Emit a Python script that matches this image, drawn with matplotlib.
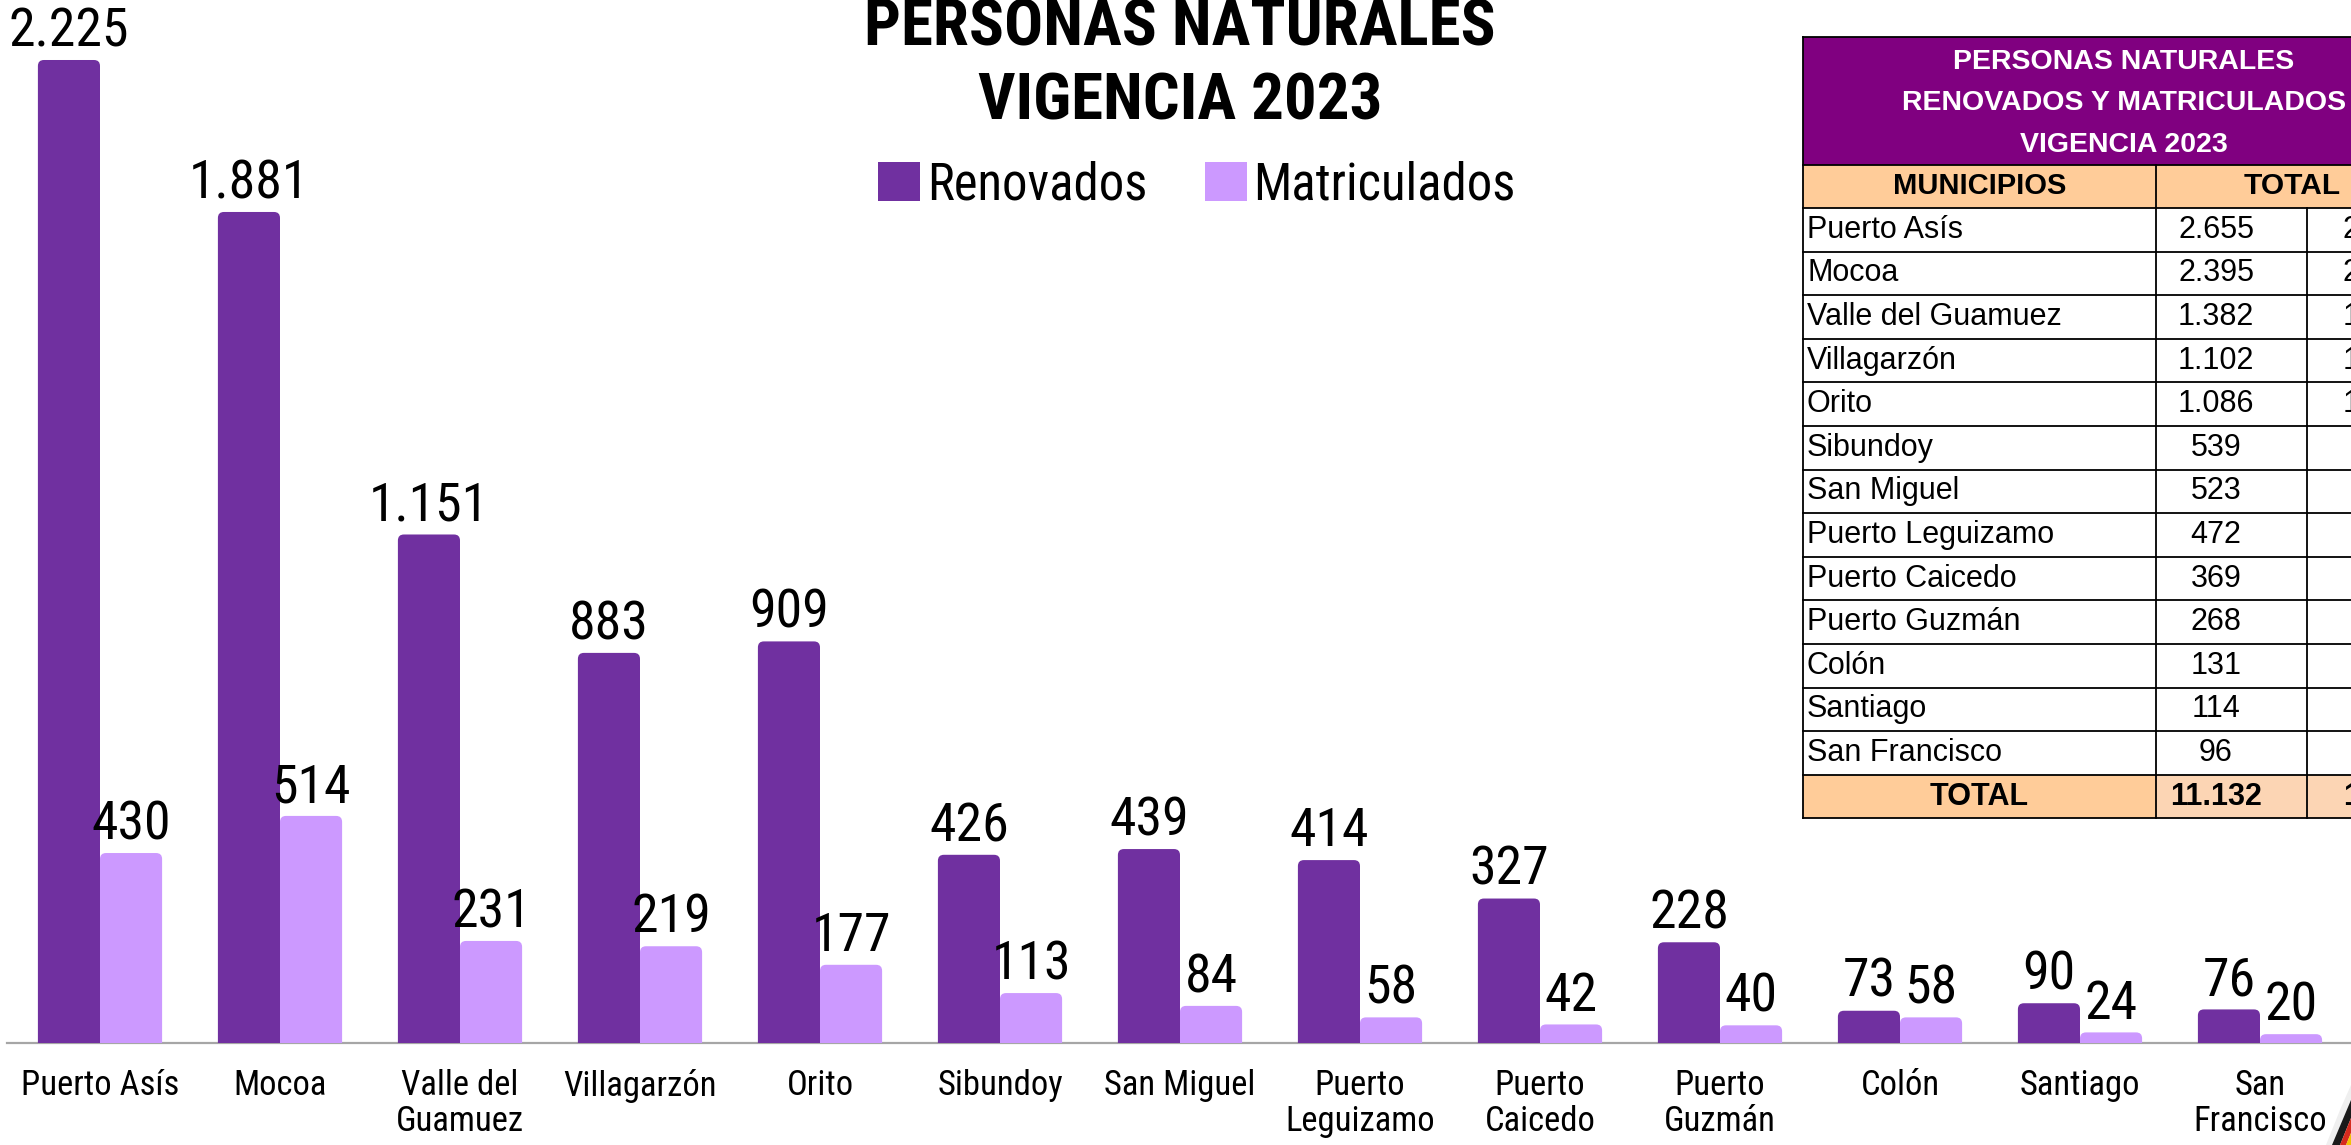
import matplotlib.pyplot as plt
from matplotlib import font_manager as fm
from matplotlib.patches import FancyBboxPatch, Rectangle, Polygon
import numpy as np

# datos
municipios = ['Puerto Asís', 'Mocoa', 'Valle del Guamuez', 'Villagarzón', 'Orito',
              'Sibundoy', 'San Miguel', 'Puerto Leguizamo', 'Puerto Caicedo',
              'Puerto Guzmán', 'Colón', 'Santiago', 'San Francisco']
etiquetas = ['Puerto Asís', 'Mocoa', 'Valle del\nGuamuez', 'Villagarzón', 'Orito',
             'Sibundoy', 'San Miguel', 'Puerto\nLeguizamo', 'Puerto\nCaicedo',
             'Puerto\nGuzmán', 'Colón', 'Santiago', 'San\nFrancisco']
renovados = [2225, 1881, 1151, 883, 909, 426, 439, 414, 327, 228, 73, 90, 76]
matriculados = [430, 514, 231, 219, 177, 113, 84, 58, 42, 40, 58, 24, 20]
# only the first digit of the third table column shows (cut at the edge)
col3_visible = ['2', '2', '1', '1', '1', '', '', '', '', '', '', '', '']
col3_total_visible = '1'

C_REN = '#7030A0'
C_MAT = '#CC99FF'

# narrow font like Arial Narrow, whatever is installed
fonts = fm.fontManager.ttflist
avail = {f.name for f in fonts}
bold_avail = {f.name for f in fonts if isinstance(f.weight, int) and f.weight >= 700
              or f.weight == 'bold'}
cands = ['Liberation Sans Narrow', 'Arial Narrow', 'Roboto Condensed', 'Archivo Narrow',
         'Encode Sans Condensed', 'Fira Sans Condensed']


def pick(pool):
    for c in cands:
        if c in pool:
            return c
    return 'DejaVu Sans'


NARROW = [pick(avail), 'DejaVu Sans']
NARROW_B = [pick(bold_avail), 'DejaVu Sans']
ARIAL = ['Liberation Sans', 'DejaVu Sans']


def miles(v):
    return f'{v:,}'.replace(',', '.')


W, H = 2351, 1145
fig = plt.figure(figsize=(W / 100, H / 100), dpi=100)
renderer = fig.canvas.get_renderer()


def fit(s, family, target, weight='normal', base=40):
    t = fig.text(0, 0, s, fontsize=base, family=family, fontweight=weight)
    w = t.get_window_extent(renderer).width
    t.remove()
    return base * target / w


val_fs = fit('2.225', NARROW, 120)
cat_fs = fit('Puerto Asís', NARROW, 158)
tit_fs = fit('PERSONAS NATURALES', NARROW_B, 630, 'bold')
leg_fs = fit('Matriculados', NARROW, 262)

# chart
base = 1043          # baseline pixel row
px_unit = 0.4418     # pixels per value unit
slot = 180           # pixels per category
ax = fig.add_axes([7 / W, (H - base) / H, (W - 7) / W, base / H])
x = np.arange(len(municipios))
bw = 0.345
b1 = ax.bar(x - bw / 2, renovados, bw, color=C_REN)
b2 = ax.bar(x + bw / 2, matriculados, bw, color=C_MAT)
ax.set_xlim(-93 / slot, -93 / slot + (W - 7) / slot)
ax.set_ylim(0, base / px_unit)

for cont in (b1, b2):
    lbls = ax.bar_label(cont, labels=[miles(v) for v in cont.datavalues], padding=2,
                        fontsize=val_fs, family=NARROW)
    for t in lbls:
        t.set_zorder(6)

# rounded tops
r = 6 / slot
asp = (6 / px_unit) / r
for cont in (b1, b2):
    for rect in cont.patches:
        x0, w, h = rect.get_x(), rect.get_width(), rect.get_height()
        fb = FancyBboxPatch((x0, -40), w, h + 40,
                            boxstyle=f'round,pad=0,rounding_size={r}',
                            mutation_aspect=asp, fc=rect.get_facecolor(),
                            ec='none', zorder=3)
        ax.add_patch(fb)
        rect.set_visible(False)

for s in ['top', 'left', 'right']:
    ax.spines[s].set_visible(False)
ax.spines['bottom'].set_color('#A6A6A6')
ax.spines['bottom'].set_linewidth(1.6)
ax.set_yticks([])
ax.set_xticks(x, etiquetas)
ax.tick_params(axis='x', length=0, pad=19)
for t in ax.get_xticklabels():
    t.set_fontsize(cat_fs)
    t.set_family(NARROW)
    t.set_linespacing(1.1)

# title and legend
fig.text(1180 / W, 1 - 45 / H, 'PERSONAS NATURALES', ha='center', va='baseline',
         fontsize=tit_fs, fontweight='bold', family=NARROW_B)
fig.text(1180 / W, 1 - 120 / H, 'VIGENCIA 2023', ha='center', va='baseline',
         fontsize=tit_fs, fontweight='bold', family=NARROW_B)
em = leg_fs * 100 / 72
handles = [FancyBboxPatch((0, 0), 1, 1, boxstyle='round,pad=0,rounding_size=0.15',
                          fc=C_REN, ec='none'),
           FancyBboxPatch((0, 0), 1, 1, boxstyle='round,pad=0,rounding_size=0.15',
                          fc=C_MAT, ec='none')]
fig.legend(handles, ['Renovados', 'Matriculados'], loc='center',
           bbox_to_anchor=(1197 / W, 1 - 185 / H), ncol=2, frameon=False,
           prop={'family': NARROW, 'size': leg_fs}, handlelength=42 / em,
           handleheight=42 / em, handletextpad=7 / em, columnspacing=57 / em,
           borderpad=0)

# table (pixel coordinates)
tab = fig.add_axes([0, 0, 1, 1], zorder=5)
tab.set_xlim(0, W)
tab.set_ylim(H, 0)
tab.axis('off')
tab.patch.set_alpha(0)

tl, c1, c2, tr = 1803, 2156, 2307, 2440
top, h_head, h_sub, rowh = 37, 165, 208, 43.6
n = len(municipios)
bottom = h_sub + rowh * (n + 1)
lw = 1.3

tab.add_patch(Rectangle((tl, top), tr - tl, h_head - top, fc='#800080', ec='none'))
tab.add_patch(Rectangle((tl, h_head), tr - tl, h_sub - h_head, fc='#FFCC99', ec='none'))
ytot = h_sub + rowh * n
tab.add_patch(Rectangle((tl, ytot), c1 - tl, rowh, fc='#FFCC99', ec='none'))
tab.add_patch(Rectangle((c1, ytot), tr - c1, rowh, fc='#FCD5B4', ec='none'))

for i, line in enumerate(['PERSONAS NATURALES', 'RENOVADOS Y MATRICULADOS', 'VIGENCIA 2023']):
    tab.text(2124, 62 + 41.5 * i, line, ha='center', va='center', color='white',
             fontsize=20.5, fontweight='bold', family=ARIAL)
tab.text((tl + c1) / 2, (h_head + h_sub) / 2, 'MUNICIPIOS', ha='center', va='center',
         fontsize=21, fontweight='bold', family=ARIAL)
tab.text(2292, (h_head + h_sub) / 2, 'TOTAL', ha='center', va='center',
         fontsize=21.5, fontweight='bold', family=ARIAL)

totales = [a + b for a, b in zip(renovados, matriculados)]
for i in range(n):
    yc = h_sub + rowh * (i + 0.5)
    tab.text(tl + 4, yc, municipios[i], ha='left', va='center', fontsize=22, family=ARIAL)
    tab.text(2216, yc, miles(totales[i]), ha='center', va='center', fontsize=22, family=ARIAL)
    if col3_visible[i]:
        tab.text(2343, yc, col3_visible[i], ha='left', va='center', fontsize=22, family=ARIAL)
yc = ytot + rowh / 2
tab.text((tl + c1) / 2, yc, 'TOTAL', ha='center', va='center', fontsize=22,
         fontweight='bold', family=ARIAL)
tab.text(2216, yc, miles(sum(totales)), ha='center', va='center', fontsize=22,
         fontweight='bold', family=ARIAL)
tab.text(2343, yc, col3_total_visible, ha='left', va='center', fontsize=22,
         fontweight='bold', family=ARIAL)

# grid lines
tab.plot([tl, tr], [top, top], color='k', lw=lw)
tab.plot([tl, tr], [h_head, h_head], color='k', lw=lw)
for i in range(n + 2):
    yy = h_sub + rowh * i
    tab.plot([tl, tr], [yy, yy], color='k', lw=lw)
tab.plot([tl, tl], [top, bottom], color='k', lw=lw)
tab.plot([c1, c1], [h_head, bottom], color='k', lw=lw)
tab.plot([c2, c2], [h_sub, bottom], color='k', lw=lw)

# logo corner fragment, bottom right
tab.add_patch(Polygon([(2326, 1145), (2340, 1110), (2351, 1085), (2351, 1145)],
                      fc='#EFEFEF', ec='none'))
tab.add_patch(Polygon([(2332, 1145), (2351, 1100), (2351, 1118), (2340, 1145)],
                      fc='#1A1A1A', ec='none'))
tab.add_patch(Polygon([(2340, 1145), (2351, 1118), (2351, 1133), (2346, 1145)],
                      fc='#D52B1E', ec='none'))
tab.add_patch(Polygon([(2346, 1145), (2351, 1133), (2351, 1145)],
                      fc='#F2C200', ec='none'))

fig.savefig('out.png', dpi=100)
